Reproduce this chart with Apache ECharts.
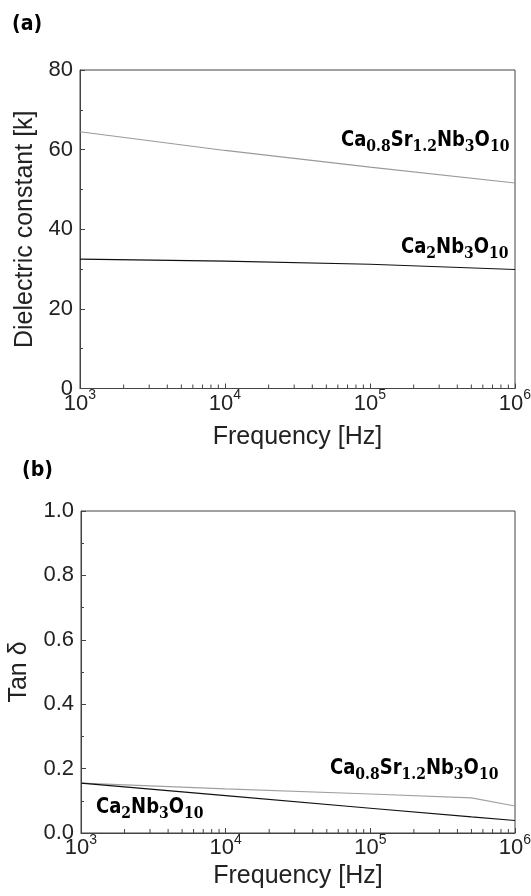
<!DOCTYPE html>
<html>
<head>
<meta charset="utf-8">
<script src="https://cdn.jsdelivr.net/npm/echarts@6/dist/echarts.min.js"></script>
<style>
html,body{margin:0;padding:0;background:#fff;}
#chart{width:531px;height:896px;}
</style>
</head>
<body>
<div id="chart"></div>
<script>
// ---- data ----
const freqA = [1e3, 1e4, 1e5, 1e6];
const kCaSr = [64.5, 59.8, 55.6, 51.6];
const kCa2 = [32.5, 32.0, 31.2, 29.9];

const freqB = [1e3, 1e4, 1e5, 5e5, 1e6];
const tanCaSr = [0.155, 0.137, 0.121, 0.109, 0.084];
const tanCa2 = [0.155, 0.116, 0.077, 0.050, 0.039];

const minorFreqs = [2e3,3e3,4e3,5e3,6e3,7e3,8e3,9e3,2e4,3e4,4e4,5e4,6e4,7e4,8e4,9e4,2e5,3e5,4e5,5e5,6e5,7e5,8e5,9e5];

const panelLabels = ['(a)', '(b)'];
const yNames = ['Dielectric constant [k]', 'Tan \u03b4'];
const xName = 'Frequency [Hz]';

// ---- helpers ----
const pair = (xs, ys) => xs.map((x, i) => [x, ys[i]]);
const AX = '#444';
const sansFont = 'Liberation Sans';

const subRich = {
  m: {fontFamily: 'DejaVu Sans', fontWeight: 'bold', fontSize: 18, lineHeight: 24, color: '#000'},
  s: {fontFamily: 'DejaVu Serif', fontWeight: 'bold', fontSize: 14, lineHeight: 14, padding: [10, 0, 0, 0], color: '#000'}
};
const caSrText = '{m|Ca}{s|0.8}{m|Sr}{s|1.2}{m|Nb}{s|3}{m|O}{s|10}';
const ca2Text = '{m|Ca}{s|2}{m|Nb}{s|3}{m|O}{s|10}';

function xAxisCfg(gridIndex, nameGap) {
  return {
    type: 'log', logBase: 10, gridIndex, min: 1e3, max: 1e6,
    name: xName, nameLocation: 'middle', nameGap,
    nameTextStyle: {fontFamily: sansFont, fontSize: 25, color: '#222'},
    axisLine: {show: true, lineStyle: {color: AX, width: 1}},
    axisTick: {show: true, inside: true, length: 5, lineStyle: {color: AX}},
    splitLine: {show: false},
    axisLabel: {
      margin: 3,
      formatter: v => '{b|10}{p|' + Math.round(Math.log10(v)) + '}',
      rich: {
        b: {fontFamily: sansFont, fontSize: 22, lineHeight: 24, color: '#222'},
        p: {fontFamily: sansFont, fontSize: 14, lineHeight: 14, padding: [0, 0, 16, 0], color: '#222'}
      }
    }
  };
}

function yAxisCfg(gridIndex, max, interval, name, nameGap, fmt) {
  return {
    type: 'value', gridIndex, min: 0, max, interval,
    name, nameLocation: 'middle', nameGap,
    nameTextStyle: {fontFamily: sansFont, fontSize: 25, color: '#222'},
    axisLine: {show: true, lineStyle: {color: AX, width: 1}},
    axisTick: {show: true, inside: true, length: 5, lineStyle: {color: AX}},
    minorTick: {show: true, splitNumber: 2, length: 3, lineStyle: {color: AX}},
    splitLine: {show: false},
    axisLabel: {margin: 7, fontFamily: sansFont, fontSize: 22, color: '#222', formatter: fmt}
  };
}

function minorTickSeries(idx) {
  return {
    type: 'custom', xAxisIndex: idx, yAxisIndex: idx, silent: true, clip: false,
    data: minorFreqs.map(f => [f, 0]),
    renderItem: (params, api) => {
      const p = api.coord([api.value(0), api.value(1)]);
      return {type: 'line', shape: {x1: p[0], y1: p[1], x2: p[0], y2: p[1] - 4},
              style: {stroke: AX, lineWidth: 1}};
    },
    z: 5
  };
}

function lineSeries(idx, data, color) {
  return {
    type: 'line', xAxisIndex: idx, yAxisIndex: idx, data,
    showSymbol: false, smooth: false, silent: true,
    lineStyle: {color, width: 1.1}, z: 3
  };
}

function label(x, y, text, extra) {
  return Object.assign({type: 'text', x, y, scaleY: 1.22, style: {text, rich: subRich, textVerticalAlign: 'middle'}}, extra || {});
}
function panelLabel(x, y, text) {
  return {type: 'text', x, y, scaleY: 1.15,
          style: {text, fontFamily: 'DejaVu Sans', fontWeight: 'bold', fontSize: 19, fill: '#000', textVerticalAlign: 'middle'}};
}

const chart = echarts.init(document.getElementById('chart'), null, {renderer: 'canvas'});
chart.setOption({
  animation: false,
  backgroundColor: '#fff',
  grid: [
    {left: 80, right: 16, top: 70, height: 318.5, show: true, borderColor: AX, borderWidth: 1, backgroundColor: 'transparent', outerBoundsMode: 'none', containLabel: false},
    {left: 81, right: 16, top: 511, height: 322, show: true, borderColor: AX, borderWidth: 1, backgroundColor: 'transparent', outerBoundsMode: 'none', containLabel: false}
  ],
  xAxis: [xAxisCfg(0, 36), xAxisCfg(1, 17)],
  yAxis: [
    yAxisCfg(0, 80, 20, yNames[0], 37, v => String(v)),
    yAxisCfg(1, 1, 0.2, yNames[1], 49, v => v.toFixed(1))
  ],
  series: [
    lineSeries(0, pair(freqA, kCaSr), '#9a9a9a'),
    lineSeries(0, pair(freqA, kCa2), '#111'),
    lineSeries(1, pair(freqB, tanCaSr), '#a0a0a0'),
    lineSeries(1, pair(freqB, tanCa2), '#111'),
    minorTickSeries(0),
    minorTickSeries(1)
  ],
  graphic: [
    panelLabel(12, 24, panelLabels[0]),
    panelLabel(22, 470, panelLabels[1]),
    label(341, 140, caSrText),
    label(401, 247, ca2Text),
    label(330, 768, caSrText),
    label(96, 807, ca2Text)
  ]
});
</script>
</body>
</html>
